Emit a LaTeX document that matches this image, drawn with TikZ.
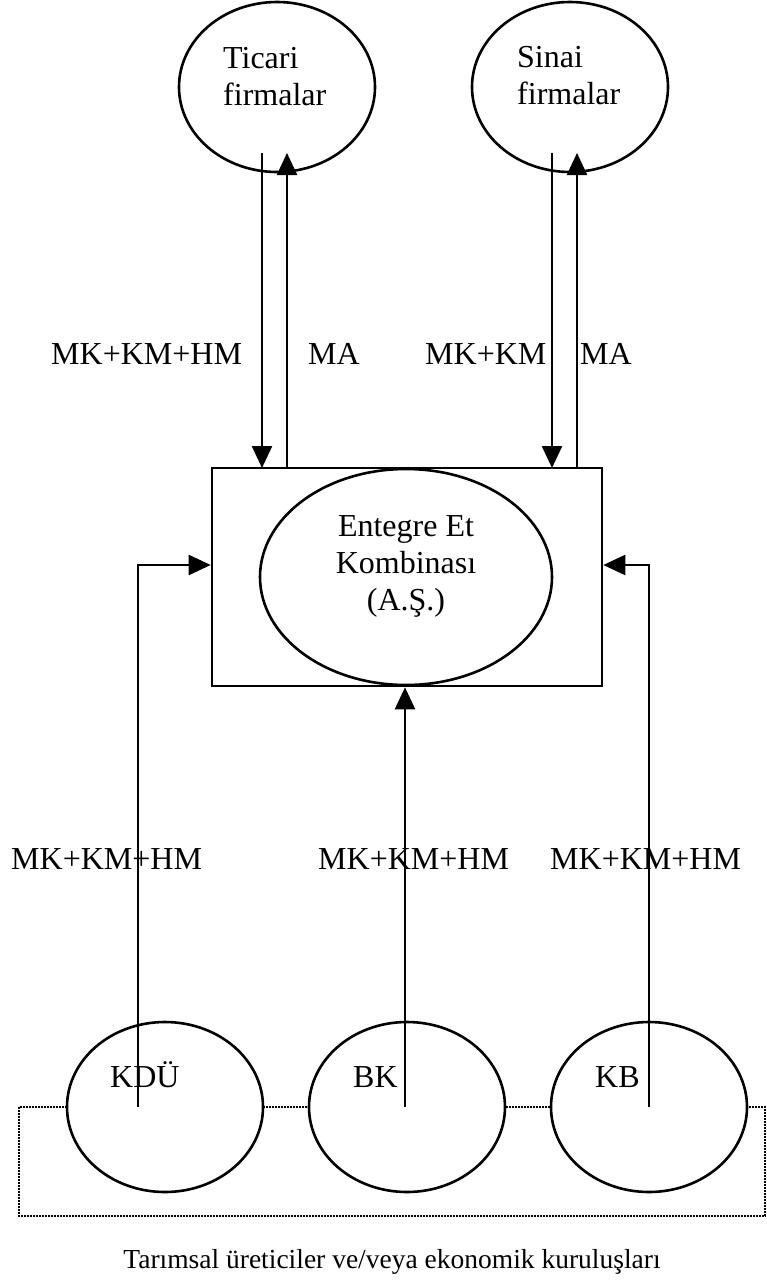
\documentclass[tikz,border=0pt]{standalone}
\usepackage{fontspec}
\setmainfont{Liberation Serif}
\usetikzlibrary{shapes.geometric,arrows.meta}
\begin{document}
\begin{tikzpicture}[x=1pt,y=-1pt,
  oval/.style={draw,fill=white,ellipse,line width=2.6pt,minimum width=196pt,minimum height=170pt,inner sep=0pt},
  lbl/.style={font=\fontsize{32}{37}\selectfont,inner sep=0pt},
  conn/.style={line width=2.4pt},
  tip/.style={-{Triangle[width=20pt,length=22pt]}},
  dotbox/.style={line width=2pt,dash pattern=on 1.6pt off 1.4pt}
]
\useasboundingbox (0,0) rectangle (766,1285);
% top ellipses
\node[oval] (ticari) at (277,87) {};
\node[oval] (sinai) at (570,87) {};
\node[lbl,anchor=north west,align=left] (ticaritxt) at (223,47) {Ticari\\firmalar};
\node[lbl,anchor=north west,align=left] (sinaitxt) at (517,46) {Sinai\\firmalar};
% central box
\node[draw,line width=2.6pt,minimum width=390pt,minimum height=218pt,inner sep=0pt] (box) at (407,577) {};
\node[draw,ellipse,line width=2.6pt,minimum width=292pt,minimum height=216pt,inner sep=0pt] (eek) at (406,577) {};
\node[lbl,align=center] (eektxt) at (406,566) {Entegre Et\\Kombinas\i\\(A.Ş.)};
% coordinates at ellipse bottoms
\coordinate (t1) at (262,153);
\coordinate (t2) at (287,153);
\coordinate (s1) at (552,153);
\coordinate (s2) at (577,153);
\coordinate (b1) at (262,468);
\coordinate (b2) at (287,468);
\coordinate (b3) at (552,468);
\coordinate (b4) at (577,468);
\draw[conn,tip] (t1) -- (b1);
\draw[conn,tip] (b2) -- (t2);
\draw[conn,tip] (s1) -- (b3);
\draw[conn,tip] (b4) -- (s2);
% top labels
\node[lbl,anchor=base west] (l1) at (51,364) {MK+KM+HM};
\node[lbl,anchor=base west] (l2) at (308,364) {MA};
\node[lbl,anchor=base west] (l3) at (425,364) {MK+KM};
\node[lbl,anchor=base west] (l4) at (580,364) {MA};
% bottom group
\draw[dotbox] (19,1107) rectangle (765,1216);
\node[oval] (kdu) at (165,1107) {};
\node[oval] (bk) at (407,1107) {};
\node[oval] (kb) at (649,1107) {};
\node[lbl,anchor=base west] (kdutxt) at (110,1087) {KDÜ};
\node[lbl,anchor=base west] (bktxt) at (353,1087) {BK};
\node[lbl,anchor=base west] (kbtxt) at (595,1087) {KB};
\coordinate (k1) at (138,1107);
\coordinate (k2) at (405,1107);
\coordinate (k3) at (649,1107);
\draw[conn,tip] (k1) |- (box.west |- 0,565);
\draw[conn,tip] (k2) -- (box.south -| k2);
\draw[conn,tip] (k3) |- (box.east |- 0,565);
% bottom labels
\node[lbl,anchor=base west] (m1) at (11,869) {MK+KM+HM};
\node[lbl,anchor=base west] (m2) at (318,869) {MK+KM+HM};
\node[lbl,anchor=base west] (m3) at (550,869) {MK+KM+HM};
% caption
\node[inner sep=0pt,font=\fontsize{27.5}{32}\selectfont] (cap) at (392,1262) {Tarımsal üreticiler ve/veya ekonomik kuruluşları};
\end{tikzpicture}
\end{document}
